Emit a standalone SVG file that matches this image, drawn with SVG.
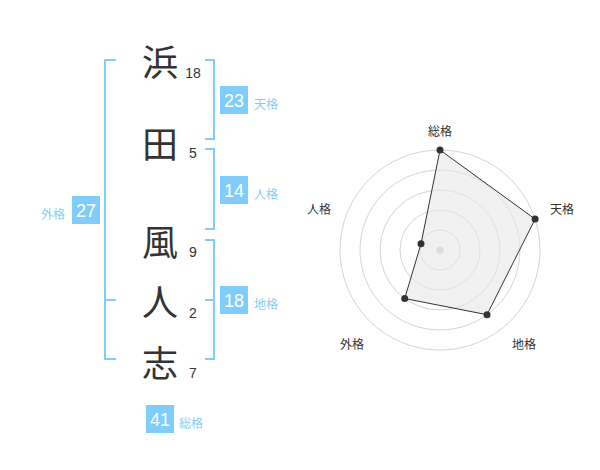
<svg xmlns="http://www.w3.org/2000/svg" width="600" height="470" viewBox="0 0 600 470">
<style>
.k{font-family:"Noto Sans CJK JP","Noto Sans",sans-serif;font-size:36px;fill:#333;text-anchor:middle;dominant-baseline:central}
.n{font-family:"Liberation Sans",Arial,sans-serif;font-size:14px;fill:#333;text-anchor:middle}
.br{fill:none;stroke:#80ccfa;stroke-width:2}
.box{fill:#80ccfa}
.bn{font-family:"Liberation Sans",Arial,sans-serif;font-size:18px;fill:#fff;text-anchor:middle;dominant-baseline:central}
.lb{font-family:"Noto Sans CJK JP","Noto Sans",sans-serif;font-size:12px;fill:#88cdf6;dominant-baseline:central}
.rl{font-family:"Noto Sans CJK JP","Noto Sans",sans-serif;font-size:12px;fill:#333;text-anchor:middle;dominant-baseline:central}
.ring{fill:none;stroke:#d4d4d4;stroke-width:1}
.dot{fill:#333}
</style>
<rect width="600" height="470" fill="#fff"/>
<g id="chars">
<g id="c1"><text class="k" x="160" y="60">浜</text><text class="n" x="193" y="78">18</text></g>
<g id="c2"><text class="k" x="160" y="142">田</text><text class="n" x="193" y="158">5</text></g>
<g id="c3"><text class="k" x="160" y="240">風</text><text class="n" x="193" y="257">9</text></g>
<g id="c4"><text class="k" x="160" y="300">人</text><text class="n" x="193" y="318">2</text></g>
<g id="c5"><text class="k" x="160" y="361">志</text><text class="n" x="193" y="378">7</text></g>
</g>
<g id="connectors">
<path class="br" d="M116,60 H105 V359 H116 M105,300 H116"/>
<path class="br" d="M205,60 H214 V139 H205"/>
<path class="br" d="M205,149 H214 V229 H205"/>
<path class="br" d="M205,240 H214 V359 H205 M214,300 H205"/>
</g>
<g id="tenkaku"><rect class="box" x="220" y="86" width="28" height="28"/><text class="bn" x="234" y="101">23</text><text class="lb" x="254" y="103">天格</text></g>
<g id="jinkaku"><rect class="box" x="220" y="176" width="28" height="28"/><text class="bn" x="234" y="191">14</text><text class="lb" x="254" y="193">人格</text></g>
<g id="gaikaku"><rect class="box" x="72" y="196" width="28" height="28"/><text class="bn" x="86" y="211">27</text><text class="lb" x="41" y="213">外格</text></g>
<g id="chikaku"><rect class="box" x="220" y="286" width="28" height="28"/><text class="bn" x="234" y="301">18</text><text class="lb" x="254" y="303">地格</text></g>
<g id="soukaku"><rect class="box" x="146" y="405" width="28" height="28"/><text class="bn" x="160" y="420">41</text><text class="lb" x="179" y="422">総格</text></g>
<g id="radar">
<circle class="ring" cx="440" cy="250" r="20"/>
<circle class="ring" cx="440" cy="250" r="40"/>
<circle class="ring" cx="440" cy="250" r="60"/>
<circle class="ring" cx="440" cy="250" r="80"/>
<circle class="ring" cx="440" cy="250" r="100"/>
<circle cx="440" cy="250" r="3.5" fill="#ccc"/>
<polygon points="440,150 535.1,219.1 487,314.7 404.7,298.5 421,243.8" fill="#e6e6e6" fill-opacity="0.6" stroke="#333" stroke-width="1"/>
<circle class="dot" cx="440" cy="150" r="3.5"/>
<circle class="dot" cx="535.1" cy="219.1" r="3.5"/>
<circle class="dot" cx="487" cy="314.7" r="3.5"/>
<circle class="dot" cx="404.7" cy="298.5" r="3.5"/>
<circle class="dot" cx="421" cy="243.8" r="3.5"/>
<text class="rl" x="440" y="130">総格</text>
<text class="rl" x="562" y="208">天格</text>
<text class="rl" x="319" y="208">人格</text>
<text class="rl" x="352" y="343">外格</text>
<text class="rl" x="524" y="343">地格</text>
</g>
</svg>
